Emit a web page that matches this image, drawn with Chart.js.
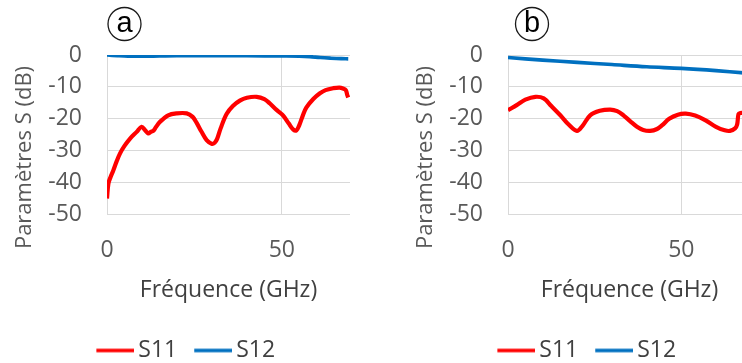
<!DOCTYPE html>
<html><head><meta charset="utf-8">
<script src="https://cdn.jsdelivr.net/npm/chart.js@4.4.1/dist/chart.umd.min.js"></script>
<style>
html,body{margin:0;padding:0;width:742px;height:363px;overflow:hidden;background:#fff;}
.p{position:absolute;top:0;width:371px;height:372px;}
</style></head><body>
<div class="p" style="left:0"><canvas id="ca" width="371" height="372"></canvas></div>
<div class="p" style="left:401px"><canvas id="cb" width="371" height="372"></canvas></div>
<script>
// ---- data ----
const X_TICKS = [0, 50];
const Y_TICKS = [0, -10, -20, -30, -40, -50];
const SERIES_NAMES = ['S11', 'S12'];
const X_TITLE = 'Fréquence (GHz)';
const Y_TITLE = 'Paramètres S (dB)';
const PANEL_LABELS = ['a', 'b'];

// panel (a)
const A_S11_FREQ = [0, 0.4, 1, 1.8, 2.7, 3.7, 5, 6.6, 8.5, 9.9, 10.9, 11.8, 12.5, 13.2, 14, 15.1, 17.5, 19.9, 22.8, 24.5, 25.6, 27, 28.5, 29.9, 30.8, 31.5, 32.5, 34.2, 36, 38, 40, 42.8, 45, 46.6, 48.5, 50.4, 52, 53.3, 54.2, 55, 56, 57, 59, 60.9, 62.5, 64.7, 66.5, 67.5, 68.3, 68.7, 69];
const A_S11_DB   = [-45, -40.3, -38.3, -36.2, -33.5, -30.9, -28.5, -26.2, -24.1, -22.5, -23.6, -24.6, -24.1, -23.8, -22.6, -21, -18.9, -18.3, -18.3, -19.4, -21.2, -24, -26.7, -27.8, -27.5, -26.3, -23, -18.5, -16, -14.3, -13.4, -13.1, -13.8, -15.2, -17.2, -19, -21.5, -23.4, -23.6, -22, -19, -16.5, -13.8, -12, -11, -10.4, -10.2, -10.5, -11, -12.5, -13.3];
const A_S12_FREQ = [0, 3, 6, 10, 15, 20, 30, 40, 50, 55, 58, 61, 64, 67, 69];
const A_S12_DB   = [0, -0.2, -0.35, -0.4, -0.3, -0.2, -0.2, -0.25, -0.3, -0.35, -0.5, -0.8, -1.0, -1.15, -1.2];

// panel (b)
const B_S11_FREQ = [0, 2.5, 5, 7.9, 10.3, 12.5, 15.1, 17.5, 19.9, 21.5, 23.7, 26.5, 29.5, 31.5, 33.3, 35.3, 37.2, 39, 41, 43, 44.5, 46.5, 49, 51.3, 54, 57, 60, 62.5, 64, 65.5, 66.1, 66.5, 67, 68];
const B_S11_DB   = [-17.3, -15.7, -14, -13.1, -13.6, -16, -18.9, -21.8, -23.8, -22.2, -18.9, -17.5, -17.1, -17.6, -18.9, -20.8, -22.5, -23.5, -23.8, -23.2, -22, -20, -18.7, -18.4, -19, -20.5, -22.5, -23.6, -23.8, -23, -21.8, -18.5, -18.2, -18.2];
const B_S12_FREQ = [0, 10, 20, 30, 40, 50, 60, 68];
const B_S12_DB   = [-0.8, -1.6, -2.3, -3.0, -3.7, -4.2, -4.9, -5.6];

const COLORS = ['#ff0000', '#0070c0'];
const LINE_W = [4.2, 3.6];
const FONT = '"Open Sans", "Noto Sans", sans-serif';

function pts(xs, ys) { return xs.map((x, i) => ({x: x, y: ys[i]})); }

function legendLine(color) {
  const c = document.createElement('canvas');
  c.width = 45; c.height = 6;
  const g = c.getContext('2d');
  g.strokeStyle = color; g.lineWidth = 3.6;
  g.beginPath(); g.moveTo(7, 3); g.lineTo(45, 3); g.stroke();
  return c;
}

const decor = {
  id: 'decor',
  afterDraw(chart, args, o) {
    const ctx = chart.ctx;
    ctx.save();
    ctx.beginPath();
    ctx.arc(o.cx, o.cy, 16.5, 0, Math.PI * 2);
    ctx.lineWidth = 1.3;
    ctx.strokeStyle = '#1a1a1a';
    ctx.stroke();
    ctx.fillStyle = '#000';
    ctx.font = '29px "Liberation Sans", Arial, sans-serif';
    ctx.textAlign = 'center';
    ctx.textBaseline = 'alphabetic';
    ctx.fillText(o.letter, o.cx, 32);
    ctx.translate(25, 157.5);
    ctx.rotate(-Math.PI / 2);
    ctx.font = '22px ' + FONT;
    ctx.fillStyle = '#595959';
    ctx.textBaseline = 'middle';
    ctx.fillText(Y_TITLE, 0, 0);
    ctx.restore();
  }
};

function makeChart(id, s11, s12, xmax, letter, cx) {
  return new Chart(document.getElementById(id), {
    type: 'line',
    data: {
      datasets: [
        {label: SERIES_NAMES[0], data: s11, borderColor: COLORS[0], backgroundColor: COLORS[0], borderWidth: LINE_W[0], pointRadius: 0, tension: 0.35, fill: false, pointStyle: legendLine(COLORS[0])},
        {label: SERIES_NAMES[1], data: s12, borderColor: COLORS[1], backgroundColor: COLORS[1], borderWidth: LINE_W[1], pointRadius: 0, tension: 0.35, fill: false, pointStyle: legendLine(COLORS[1])}
      ]
    },
    options: {
      responsive: false,
      animation: false,
      events: [],
      layout: {padding: {left: 22, right: 21, top: 55, bottom: 0}},
      plugins: {
        legend: {
          position: 'bottom',
          labels: {usePointStyle: true, pointStyleWidth: 30, padding: 17.5,
                   color: '#404040', font: {family: FONT, size: 23}}
        },
        tooltip: {enabled: false},
        decor: {letter: letter, cx: cx, cy: 24}
      },
      scales: {
        x: {
          type: 'linear', min: 0, max: xmax,
          afterBuildTicks: s => { s.ticks = X_TICKS.map(v => ({value: v})); },
          afterFit: s => { s.height = 107; },
          grid: {color: '#d9d9d9', lineWidth: 1, drawTicks: false},
          border: {display: false},
          ticks: {padding: 22, color: '#595959', font: {family: FONT, size: 23}, maxRotation: 0},
          title: {display: true, text: X_TITLE, color: '#404040', font: {family: FONT, size: 23}, padding: {top: 0, bottom: 17.2}}
        },
        y: {
          min: -50, max: 0,
          afterBuildTicks: s => { s.ticks = Y_TICKS.map(v => ({value: v})); },
          afterFit: s => { s.width = 85; },
          grid: {color: '#d9d9d9', lineWidth: 1, drawTicks: false},
          border: {display: false},
          ticks: {padding: 25, color: '#595959', font: {family: FONT, size: 23}}
        }
      }
    },
    plugins: [decor]
  });
}

makeChart('ca', pts(A_S11_FREQ, A_S11_DB), pts(A_S12_FREQ, A_S12_DB), 69.5, PANEL_LABELS[0], 124.5);
makeChart('cb', pts(B_S11_FREQ, B_S11_DB), pts(B_S12_FREQ, B_S12_DB), 70.1, PANEL_LABELS[1], 131);
</script>
</body></html>
